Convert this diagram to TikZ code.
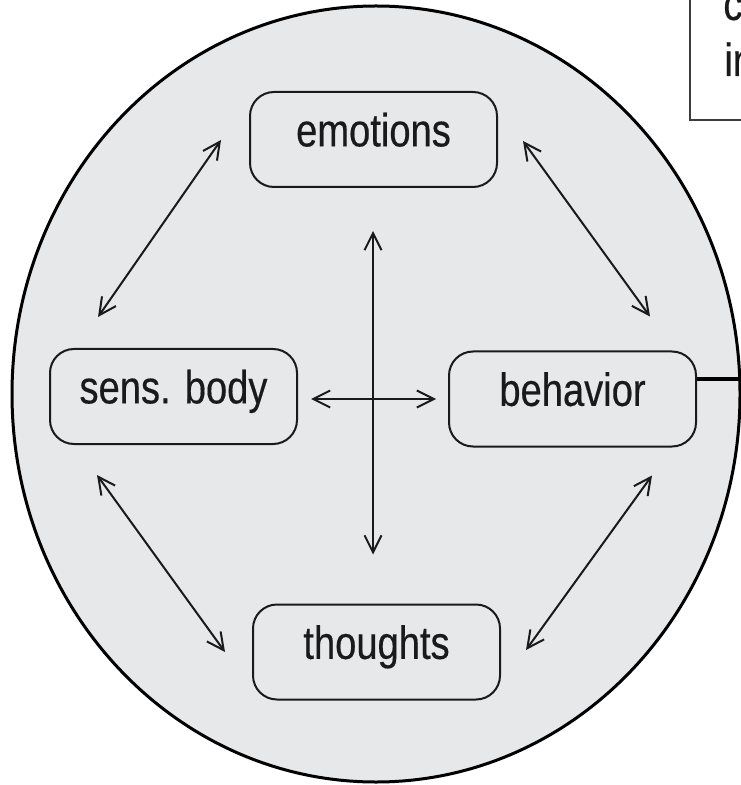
\documentclass[tikz,border=0pt]{standalone}
\usepackage{fontspec}
\setmainfont{Liberation Sans}[FakeStretch=0.82,FakeBold=0.35]
\usetikzlibrary{arrows.meta,calc}
\definecolor{circfill}{HTML}{E7E8EA}
\definecolor{ink}{HTML}{1A1A1A}
\tikzset{
  box/.style={draw=ink, line width=1pt, rounded corners=12pt, minimum width=123.5pt,
    minimum height=47.5pt, inner sep=0pt, text=ink, text height=0.69em, text depth=0pt,
    font=\fontsize{23.25pt}{28pt}\selectfont},
  biarrow/.style={{Straight Barb[length=8.5pt,width=8.5pt]}-{Straight Barb[length=8.5pt,width=8.5pt]},
    draw=ink, line width=1pt},
  notetext/.style={anchor=base west, inner sep=0pt, text=ink, font=\fontsize{23.25pt}{28pt}\selectfont}
}
\begin{document}
\begin{tikzpicture}[x=0.5pt,y=-0.5pt]
\useasboundingbox (0,0) rectangle (740,785);
% big circle
\draw[fill=circfill, draw=black, line width=1.5pt] (376,394) ellipse [x radius=182pt, y radius=194pt];
% note box (cut off at top-right)
\draw[fill=white, draw=ink!85, line width=1pt] (690,-10) rectangle (760,120);
\node[notetext] (note1) at (723,20) {c};
\node[notetext] (note2) at (724,76) {in};
% nodes
\node[box] (emo) at (373.5,139.5) {emotions};
\node[box] (sens) at (173.5,396.5) {sens. body};
\node[box] (beh) at (572.5,399) {behavior};
\node[box] (tho) at (376.5,652) {thoughts};
% thick connector to the right
\coordinate (lineend) at (745,379);
\draw[line width=2.3pt, draw=black] (beh.east |- lineend) -- (lineend);
% arrows
\draw[biarrow] ($(emo.west)+(-28,0.5)$) -- ($(sens.north)+(-75.5,-31)$);
\draw[biarrow] ($(emo.east)+(25,1.5)$) -- ($(beh.north)+(77.5,-34)$);
\draw[biarrow] ($(sens.south)+(-76.5,30)$) -- ($(tho.west)+(-27,0)$);
\draw[biarrow] ($(beh.south)+(79.5,28)$) -- ($(tho.east)+(25,-2)$);
\draw[biarrow] ($(sens.east)+(13,2.5)$) -- ($(beh.west)+(-12,0)$);
\draw[biarrow] ($(emo.south)+(-0.5,43)$) -- ($(tho.north)+(-3.5,-49)$);
\end{tikzpicture}
\end{document}
